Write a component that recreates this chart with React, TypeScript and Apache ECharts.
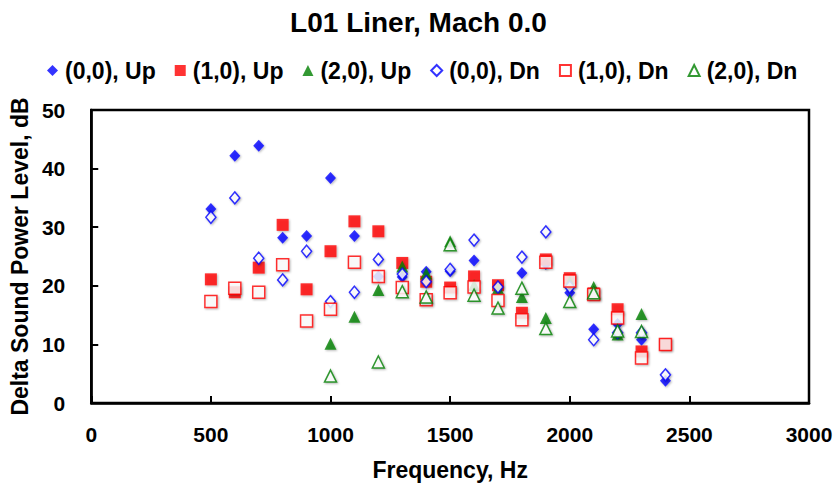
import React, { useEffect, useRef } from "react";
import * as echarts from "echarts";

const frequencies = [500, 600, 700, 800, 900, 1000, 1100, 1200, 1300, 1400, 1500, 1600, 1700, 1800, 1900, 2000, 2100, 2200, 2300, 2400];

const up00 = [33.1, 42.2, 43.9, 28.2, 28.5, 38.4, 28.5, 21.6, 21.5, 22.4, 22.5, 24.3, 19.9, 22.2, 23.7, 18.8, 12.6, 13.5, 10.8, 3.8];
const up10 = [21.1, 18.9, 23.1, 30.4, 19.4, 25.9, 31.0, 29.3, 23.9, 20.7, 19.7, 21.6, 20.1, 15.4, 24.5, 21.3, 18.7, 16.0, 8.8, 10.0];
const up20 = [null, null, null, null, null, 10.1, 14.7, 19.3, 23.3, 22.1, 27.6, 20.1, 19.6, 18.1, 14.5, 20.7, 19.8, 11.7, 15.2, null];
const dn00 = [31.7, 35.0, 24.7, 21.0, 25.9, 17.3, 18.9, 24.5, 22.0, 20.7, 22.8, 27.8, 19.8, 24.9, 29.2, 19.8, 10.8, 12.0, 12.0, 4.8];
const dn10 = [17.3, 19.6, 18.9, 23.6, 14.0, 16.0, 24.0, 21.6, 19.7, 17.6, 18.8, 19.8, 17.5, 14.2, 24.0, 20.8, 18.5, 14.5, 7.7, 10.0];
const dn20 = [null, null, null, null, null, 4.6, null, 7.0, 19.0, 18.1, 27.0, 18.4, 16.2, 19.6, 12.7, 17.3, 18.8, 12.3, 12.2, null];

const seriesNames = ["(0,0), Up", "(1,0), Up", "(2,0), Up", "(0,0), Dn", "(1,0), Dn", "(2,0), Dn"];
const xTicks = { min: 0, max: 3000, interval: 500 };
const yTicks = { min: 0, max: 50, interval: 10 };

const FONT = '"Liberation Sans", Arial, Helvetica, sans-serif';

export default function App() {
  const ref = useRef<HTMLDivElement>(null);

  useEffect(() => {
    if (!ref.current) return;
    const chart = echarts.init(ref.current, null, { renderer: "svg" });

    const pts = (vals: (number | null)[]) =>
      frequencies
        .map((f, i) => (vals[i] == null ? null : [f, vals[i] as number]))
        .filter((p) => p !== null);

    const shadow = {
      shadowColor: "rgba(0,0,0,0.35)",
      shadowBlur: 2,
      shadowOffsetX: 1,
      shadowOffsetY: 1,
    };

    const mk = (name: string, vals: (number | null)[], symbol: string, size: number | number[], color: string, filled: boolean) => ({
      name,
      type: "scatter",
      data: pts(vals),
      symbol,
      symbolSize: size,
      itemStyle: filled
        ? { color, ...shadow }
        : { color: "#ffffff", borderColor: color, borderWidth: 1.5, ...shadow },
      emphasis: { disabled: true },
    });

    const blue = "#0000ff";
    const red = "#ff0000";
    const green = "#008000";

    chart.setOption({
      animation: false,
      backgroundColor: "#ffffff",
      textStyle: { fontFamily: FONT },
      title: {
        text: "L01 Liner, Mach 0.0",
        left: "center",
        top: 3,
        textStyle: { fontFamily: FONT, fontSize: 28, fontWeight: "bold", color: "#000" },
      },
      legend: {
        data: seriesNames,
        left: 47,
        top: 59,
        padding: 0,
        itemGap: 19,
        itemWidth: 11,
        itemHeight: 11,
        textStyle: { fontFamily: FONT, fontSize: 23, fontWeight: "bold", color: "#000", padding: [0, 0, 0, 2] },
      },
      grid: {
        left: 89,
        right: 28,
        top: 110,
        bottom: 84,
        show: true,
        borderColor: "#000",
        borderWidth: 2.5,
        backgroundColor: "transparent",
      },
      xAxis: {
        type: "value",
        min: xTicks.min,
        max: xTicks.max,
        interval: xTicks.interval,
        name: "Frequency, Hz",
        nameLocation: "middle",
        nameGap: 55,
        nameTextStyle: { fontFamily: FONT, fontSize: 23, fontWeight: "bold", color: "#000" },
        axisLine: { lineStyle: { color: "#000", width: 2.5 } },
        axisTick: { inside: true, length: 7, lineStyle: { color: "#000", width: 2 } },
        axisLabel: {
          fontFamily: FONT,
          fontSize: 21,
          fontWeight: "bold",
          color: "#000",
          margin: 21,
          formatter: (v: number) => String(v),
        },
        splitLine: { show: false },
      },
      yAxis: {
        type: "value",
        min: yTicks.min,
        max: yTicks.max,
        interval: yTicks.interval,
        name: "Delta Sound Power Level, dB",
        nameLocation: "middle",
        nameGap: 60,
        nameTextStyle: { fontFamily: FONT, fontSize: 23, fontWeight: "bold", color: "#000" },
        axisLine: { lineStyle: { color: "#000", width: 2.5 } },
        axisTick: { inside: true, length: 7, lineStyle: { color: "#000", width: 2 } },
        axisLabel: {
          fontFamily: FONT,
          fontSize: 21,
          fontWeight: "bold",
          color: "#000",
          margin: 26,
          formatter: (v: number) => String(v),
        },
        splitLine: { show: false },
      },
      series: [
        mk(seriesNames[0], up00, "diamond", [11, 12], blue, true),
        mk(seriesNames[1], up10, "rect", 12, red, true),
        mk(seriesNames[2], up20, "triangle", 12, green, true),
        mk(seriesNames[3], dn00, "diamond", [10, 12], blue, false),
        mk(seriesNames[4], dn10, "rect", 12, red, false),
        mk(seriesNames[5], dn20, "triangle", 12, green, false),
      ],
    });

    return () => chart.dispose();
  }, []);

  return <div ref={ref} style={{ position: "fixed", left: 0, top: 0, width: 837, height: 487 }} />;
}
